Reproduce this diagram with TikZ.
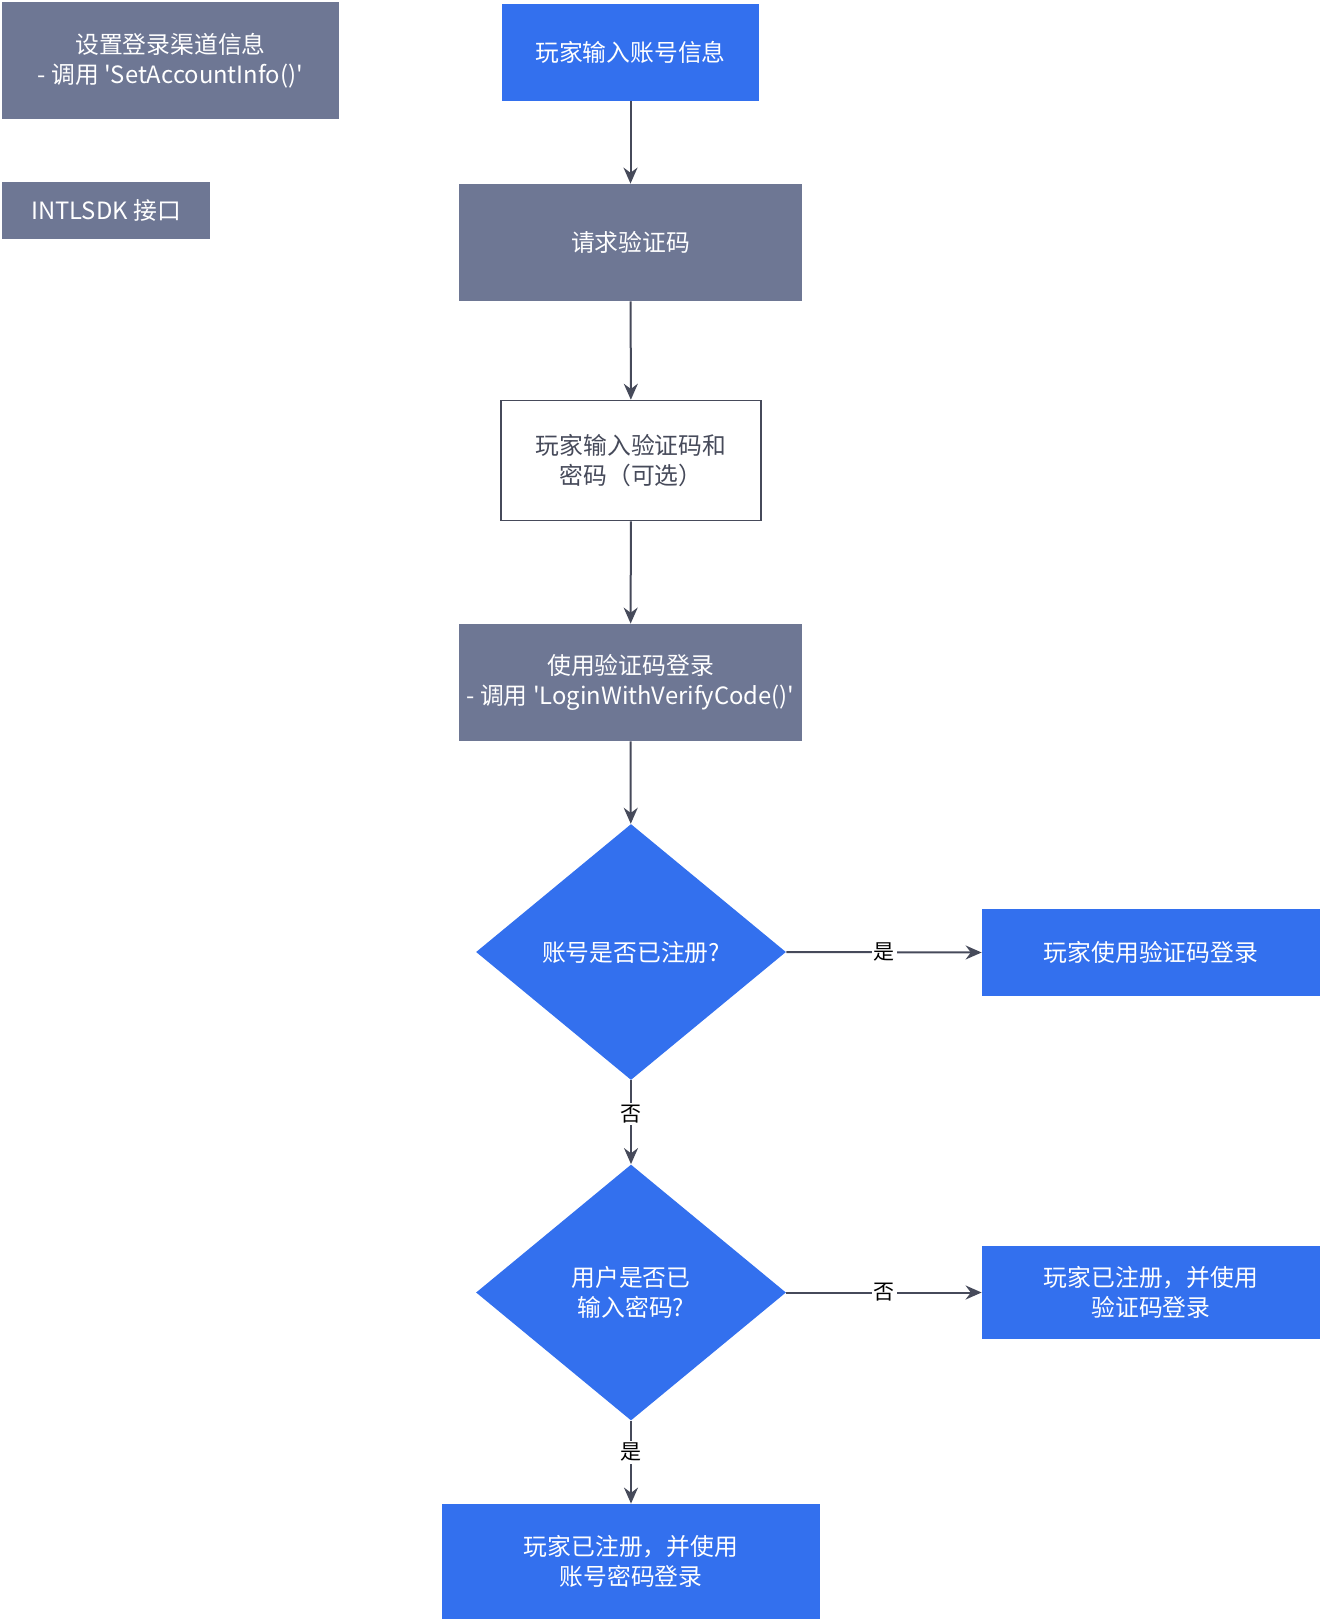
\documentclass[tikz,border=0pt]{standalone}
\usepackage{fontspec}
\setmainfont{Noto Sans CJK SC}[Ligatures=TeXOff]
\usetikzlibrary{shapes.geometric,arrows.meta}
\definecolor{apigray}{HTML}{6E7794}
\definecolor{flowblue}{HTML}{3370EE}
\definecolor{linedark}{HTML}{464A5A}
\tikzset{
  boxtext/.style={font=\fontsize{11.9}{15}\selectfont, align=center, inner sep=0pt},
  apibox/.style={boxtext, fill=apigray, text=white},
  userbox/.style={boxtext, fill=flowblue, text=white},
  plainbox/.style={boxtext, draw=linedark, line width=0.75pt, text=linedark},
  choice/.style={boxtext, diamond, fill=flowblue, text=white, minimum width=155pt, minimum height=128pt},
  flow/.style={draw=linedark, line width=1pt, -{Stealth[length=8pt,width=7pt]}},
  answer/.style={font=\fontsize{10.5}{12}\selectfont, fill=white, inner sep=1pt, text=black}
}
\begin{document}
\begin{tikzpicture}[x=0.5pt,y=-0.5pt]
	\useasboundingbox (0,0) rectangle (1322,1622);
	% legend
	\node[apibox, minimum width=168.5pt, minimum height=58.5pt] (setinfo) at (170.5,60.5) {设置登录渠道信息\\- 调用 'SetAccountInfo()'};
	\node[apibox, minimum width=104pt, minimum height=28.5pt] (sdkapi) at (106,210.5) {INTLSDK 接口};
	% main flow
	\node[userbox, minimum width=128.5pt, minimum height=48.5pt] (inputacc) at (630.5,52.5) {玩家输入账号信息};
	\node[apibox, minimum width=171.5pt, minimum height=58.5pt] (reqcode) at (630.5,242.5) {请求验证码};
	\node[plainbox, minimum width=130pt, minimum height=60pt] (inputcode) at (631,460.5) {玩家输入验证码和\\密码（可选）};
	\node[apibox, minimum width=171.5pt, minimum height=58.5pt] (codelogin) at (630.5,682.5) {使用验证码登录\\- 调用 'LoginWithVerifyCode()'};
	\node[choice] (isreg) at (631,952) {账号是否已注册?};
	\node[userbox, minimum width=169pt, minimum height=43.5pt] (usecode) at (1151,952.5) {玩家使用验证码登录};
	\node[choice] (haspwd) at (631,1292.5) {用户是否已\\输入密码?};
	\node[userbox, minimum width=169pt, minimum height=46.5pt] (regcode) at (1151,1292.5) {玩家已注册，并使用\\验证码登录};
	\node[userbox, minimum width=189pt, minimum height=57.5pt] (regpwd) at (631,1561.5) {玩家已注册，并使用\\账号密码登录};
	% connectors
	\draw[flow] (inputacc) -- (reqcode);
	\draw[flow] (reqcode) -- (inputcode);
	\draw[flow] (inputcode) -- (codelogin);
	\draw[flow] (codelogin) -- (isreg);
	\draw[flow] (isreg.east) -- node[answer] {是} (usecode.west);
	\draw[flow] (isreg.south) -- node[answer, pos=0.4] {否} (haspwd.north);
	\draw[flow] (haspwd.east) -- node[answer] {否} (regcode.west);
	\draw[flow] (haspwd.south) -- node[answer, pos=0.38] {是} (regpwd.north);
\end{tikzpicture}
\end{document}
